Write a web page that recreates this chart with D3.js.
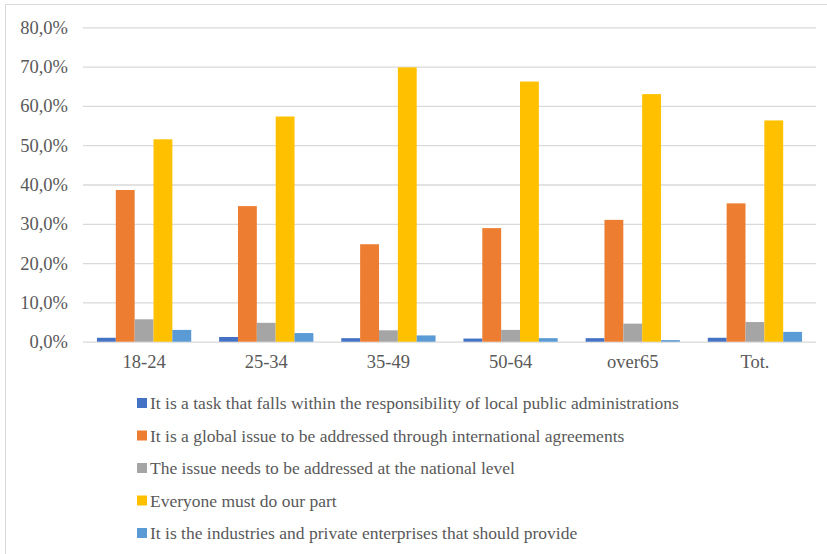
<!DOCTYPE html>
<html>
<head>
<meta charset="utf-8">
<script src="https://cdn.jsdelivr.net/npm/d3@7"></script>
<style>
  html, body { margin: 0; padding: 0; background: #fff; }
  svg { display: block; }
  text { font-family: "Liberation Serif", "Times New Roman", serif; fill: #595959; }
</style>
</head>
<body>
<svg id="chart" width="827" height="554"></svg>
<script>
// Age groups on the x axis
const categories = ["18-24", "25-34", "35-49", "50-64", "over65", "Tot."];

// Answer options (legend order)
const seriesNames = [
  "It is a task that falls within the responsibility of local public administrations",
  "It is a global issue to be addressed through international agreements",
  "The issue needs to be addressed at the national level",
  "Everyone must do our part",
  "It is the industries and private enterprises that should provide"
];

// Share of respondents (%) per age group, one array per answer
const localAdmin    = [1.0, 1.2, 0.9, 0.8, 0.9, 1.0];
const international = [38.6, 34.5, 24.8, 28.9, 31.0, 35.2];
const national      = [5.7, 4.8, 2.9, 3.0, 4.6, 5.0];
const everyone      = [51.5, 57.3, 69.8, 66.2, 63.0, 56.3];
const industries    = [3.0, 2.2, 1.6, 0.9, 0.4, 2.5];

const yTicks = [0, 10, 20, 30, 40, 50, 60, 70, 80];

const seriesValues = [localAdmin, international, national, everyone, industries];
const colors = ["#4472C4", "#ED7D31", "#A5A5A5", "#FFC000", "#5B9BD5"];

const svg = d3.select("#chart");

// Outer chart frame
svg.append("rect")
  .attr("x", 5.5).attr("y", 4.5)
  .attr("width", 840).attr("height", 560)
  .attr("fill", "none").attr("stroke", "#d9d9d9").attr("stroke-width", 1);

const plot = { left: 83, right: 816, top: 27.3, bottom: 341.7 };

const x = d3.scaleBand().domain(categories).range([plot.left, plot.right]).paddingInner(0).paddingOuter(0);
const xSub = d3.scaleBand().domain(d3.range(seriesNames.length))
  .range([0, x.bandwidth()]).paddingInner(0).paddingOuter(0.74);
const y = d3.scaleLinear().domain([0, 80]).range([plot.bottom, plot.top]);

const fmt = v => d3.format(".1f")(v).replace(".", ",") + "%";
const serif = "'Liberation Serif', 'Times New Roman', serif";

// Gridlines and y labels
const yAxis = d3.axisLeft(y).tickValues(yTicks).tickSize(-(plot.right - plot.left)).tickFormat(fmt).tickPadding(15);
const gy = svg.append("g").attr("transform", `translate(${plot.left},0)`).call(yAxis);
gy.select(".domain").remove();
gy.selectAll(".tick line").attr("stroke", "#d9d9d9").attr("stroke-width", 1.3);
gy.selectAll(".tick text").attr("font-size", 18.5).attr("fill", "#595959").style("font-family", serif);

// Bars
const groups = svg.append("g").selectAll("g")
  .data(categories).join("g")
  .attr("transform", c => `translate(${x(c)},0)`);

groups.selectAll("rect")
  .data((c, i) => seriesValues.map((vals, s) => ({ s, v: vals[i] })))
  .join("rect")
  .attr("x", d => xSub(d.s))
  .attr("width", xSub.bandwidth())
  .attr("y", d => y(d.v))
  .attr("height", d => y(0) - y(d.v))
  .attr("fill", d => colors[d.s]);

// X axis labels
const xAxis = d3.axisBottom(x).tickSize(0).tickPadding(13);
const gx = svg.append("g").attr("transform", `translate(0,${plot.bottom})`).call(xAxis);
gx.select(".domain").remove();
gx.selectAll(".tick text").attr("font-size", 18.5).attr("fill", "#595959").style("font-family", serif);

// Legend
const legend = svg.append("g").attr("transform", "translate(137,403)");
const items = legend.selectAll("g").data(seriesNames).join("g")
  .attr("transform", (d, i) => `translate(0,${i * 32.5})`);
items.append("rect").attr("x", 0).attr("y", -5).attr("width", 10).attr("height", 10)
  .attr("fill", (d, i) => colors[i]);
items.append("text").attr("x", 13).attr("y", 0).attr("dy", "0.35em")
  .attr("font-size", 17.5).style("font-family", serif).text(d => d);
</script>
</body>
</html>
